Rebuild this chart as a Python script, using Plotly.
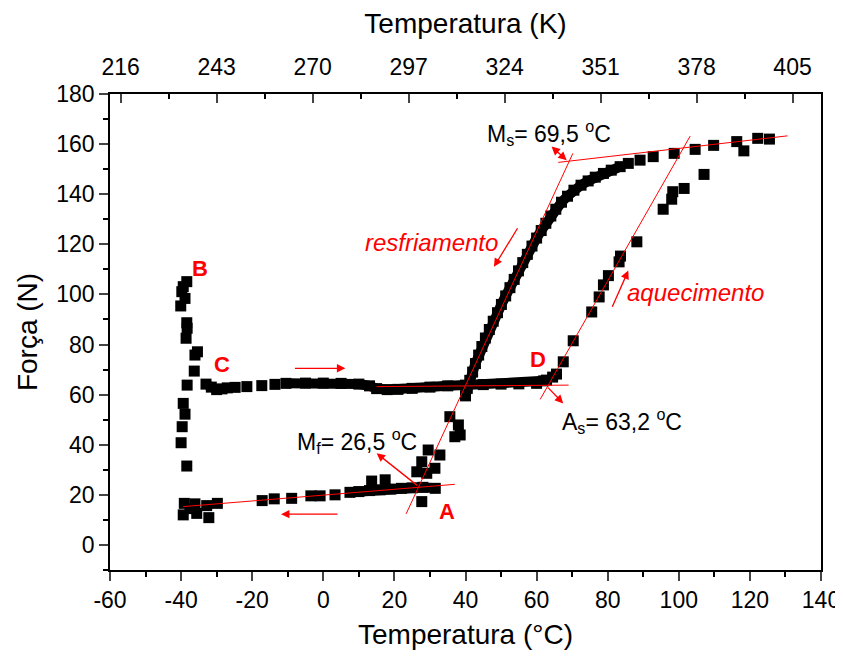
import plotly.graph_objects as go

# ---- data (T in °C, F in N) ----
# vertical column at -40 °C (B region)
col_T = [-38.4, -39.4, -39.8, -38.9, -40.1, -38.4, -38.3, -38.6, -35.4, -36.1, -36.3, -38.3,
         -39.4, -38.9, -39.7, -40.0, -38.4]
col_F = [105.1, 103.1, 101.1, 98.4, 95.4, 88.7, 86.5, 82.5, 77.1, 75.8, 69.4, 63.8,
         56.5, 52.2, 47.2, 40.8, 31.5]

# lower branch (cooling to -40 °C)
low_T = [3.3, -0.9, -3.5, -8.9, -13.8, -17.2, -29.8, -32.8, -36.1, -39.1, -39.4, -35.6, -32.2, -37.5]
low_F = [20.0, 19.6, 19.6, 18.6, 18.4, 17.7, 16.6, 15.7, 16.4, 16.6, 12.0, 12.6, 10.9, 14.5]

# dense band near A
bandA_T = [7.5, 10, 13, 16, 19, 22, 25, 28, 31.5]
bandA_F = [21.0, 21.3, 21.7, 22.0, 22.3, 22.6, 22.8, 23.0, 22.6]

# scattered points between plateau and A
nearA_T = [13.6, 17.4, 27.7, 26.3, 29.1, 27.7, 31.4, 29.5, 32.8, 35.6, 38.0, 37.0, 38.5]
nearA_F = [25.5, 26.0, 17.3, 29.2, 28.6, 33.2, 30.6, 37.9, 35.9, 51.2, 47.9, 43.2, 43.9]

# plateau C -> D
platC_T = [-33.0, -31.5, -30.0, -28.5, -27.0]
platC_F = [64.2, 63.0, 62.0, 62.3, 62.7]
platSq_T = [-24.8, -21.5, -17.3, -13.6]
platSq_F = [62.9, 63.2, 63.6, 64.1]
platD_T = [-10.5, -5, 0, 5, 10, 13, 15, 18, 21, 25, 30, 35, 40, 45, 50, 55, 60, 62]
platD_F = [64.5, 64.6, 64.6, 64.5, 64.2, 63.5, 62.4, 62.0, 62.1, 62.5, 63.0, 63.5, 63.8, 64.0, 64.2,
           64.3, 64.5, 65.5]

# heating branch D -> top
heat_T = [62.8, 64.5, 65.6, 67.5, 70.3, 75.5, 77.6, 78.8, 80.2, 83.2, 83.6, 88.2, 95.6, 98.0, 98.3,
          101.5, 107.1, 118.3, 122.2, 125.5]
heat_F = [65.8, 67.0, 68.2, 73.1, 81.5, 93.0, 99.0, 103.8, 107.5, 113.0, 115.3, 121.0, 134.0, 138.0,
          141.0, 142.3, 147.9, 157.3, 162.3, 162.0]

# upper cooling plateau squares
top_T = [116.3, 109.8, 104.6, 98.7, 92.8, 89.1, 85.8]
top_F = [161.0, 159.5, 157.9, 156.3, 155.0, 153.6, 152.3]

# dense cooling branch
cool_T = [83.5, 81.0, 78.8, 76.5, 74.5, 72.5, 70.5, 68.7, 67.0, 65.4, 64.0, 62.6, 61.3, 60.0, 58.7,
          57.4, 56.1, 54.9, 53.7, 52.5, 51.3, 50.1, 49.0, 47.8, 46.7, 45.6, 44.6, 43.7, 42.8, 42.0,
          41.2, 40.5, 40.0]
cool_F = [151.0, 149.6, 148.3, 146.8, 145.3, 143.6, 141.6, 139.2, 136.8, 134.0, 131.3, 128.4, 125.5,
          122.5, 119.3, 116.0, 112.7, 109.4, 106.0, 102.7, 99.4, 96.0, 92.7, 89.3, 86.0, 82.6, 79.2,
          75.8, 72.4, 69.0, 65.7, 62.5, 59.5]

# tangent lines (T0, F0, T1, F1)
tangents = [
    (-39.4, 15.3, 37.0, 24.2),
    (23.3, 12.4, 70.2, 156.3),
    (66.1, 152.7, 130.6, 163.3),
    (61.0, 58.1, 103.2, 163.2),
    (15.0, 63.2, 69.0, 63.8),
]

C_ticks = [-60, -40, -20, 0, 20, 40, 60, 80, 100, 120, 140]
C_labels = ['-60', '-40', '-20', '0', '20', '40', '60', '80', '100', '120', '140']
F_ticks = [0, 20, 40, 60, 80, 100, 120, 140, 160, 180]
K_ticks = [216, 243, 270, 297, 324, 351, 378, 405]

fig = go.Figure()
sq = dict(symbol='square', size=11, color='black', line=dict(width=0))

for T, F in [(col_T, col_F), (low_T, low_F), (nearA_T, nearA_F), (platSq_T, platSq_F),
             (heat_T, heat_F), (top_T, top_F)]:
    fig.add_trace(go.Scatter(x=T, y=F, mode='markers', marker=sq, showlegend=False))
for T, F in [(bandA_T, bandA_F), (platC_T, platC_F), (platD_T, platD_F), (cool_T, cool_F)]:
    fig.add_trace(go.Scatter(x=T, y=F, mode='lines+markers', marker=sq,
                             line=dict(color='black', width=10), showlegend=False))

# dummy trace for the Kelvin axis
fig.add_trace(go.Scatter(x=[K_ticks[0]], y=[None], xaxis='x2', mode='markers',
                         marker=dict(opacity=0), showlegend=False, hoverinfo='skip'))

for (x0, y0, x1, y1) in tangents:
    fig.add_shape(type='line', x0=x0, y0=y0, x1=x1, y1=y1, xref='x', yref='y',
                  line=dict(color='red', width=1))

red = '#ff0000'
arrows = [  # head (x, y), tail (ax, ay), side
    (6.2, 70.5, -8.4, 70.5, 'end'),
    (-11.9, 12.3, 4.4, 12.3, 'end'),
    (48.0, 111.0, 54.9, 127.0, 'end'),
    (85.8, 109.5, 81.1, 94.5, 'end'),
    (64.2, 159.0, 68.9, 153.0, 'end+start'),
    (15.0, 36.6, 26.8, 23.3, 'end'),
    (67.5, 56.5, 62.8, 63.4, 'end'),
]
for (x, y, ax, ay, side) in arrows:
    fig.add_annotation(x=x, y=y, ax=ax, ay=ay, xref='x', yref='y', axref='x', ayref='y',
                       text='', showarrow=True, arrowhead=2, arrowsize=1.3, arrowwidth=1.3,
                       arrowcolor=red, arrowside=side)

labels = [('B', -34.7, 110.5), ('C', -28.5, 72.2), ('D', 60.4, 74.2), ('A', 34.8, 13.2)]
for t, x, y in labels:
    fig.add_annotation(x=x, y=y, xref='x', yref='y', text='<b>%s</b>' % t, showarrow=False,
                       font=dict(family='Arial', size=22, color=red))

texts = [('M<sub>f</sub>= 26,5 <sup>o</sup>C', 9.5, 41.5),
         ('M<sub>s</sub>= 69,5 <sup>o</sup>C', 63.5, 164.4),
         ('A<sub>s</sub>= 63,2 <sup>o</sup>C', 84.0, 49.5)]
for t, x, y in texts:
    fig.add_annotation(x=x, y=y, xref='x', yref='y', text=t, showarrow=False,
                       font=dict(family='Arial', size=23, color='black'))

fig.add_annotation(x=30.3, y=120.9, xref='x', yref='y', text='<i>resfriamento</i>',
                   showarrow=False, font=dict(family='Arial', size=24, color=red))
fig.add_annotation(x=104.8, y=100.6, xref='x', yref='y', text='<i>aquecimento</i>',
                   showarrow=False, font=dict(family='Arial', size=24, color=red))

axfont = dict(family='Arial', size=23, color='black')
titlefont = dict(family='Arial', size=28, color='black')
fig.update_layout(
    width=835, height=650,
    margin=dict(l=102, r=22, t=86, b=88, autoexpand=False),
    paper_bgcolor='white', plot_bgcolor='white',
    font=dict(family='Arial', color='black'),
    xaxis=dict(range=[-60, 140], tickmode='array', tickvals=C_ticks, ticktext=C_labels,
               ticks='outside', ticklen=9, tickwidth=1.5, automargin=False,
               showline=True, linewidth=1.5, linecolor='black', showgrid=False, zeroline=False,
               tickfont=axfont,
               minor=dict(dtick=10, tick0=0, ticks='outside', ticklen=5, tickwidth=1.5,
                          tickcolor='black'),
               title=dict(text='Temperatura (°C)', font=titlefont, standoff=12)),
    xaxis2=dict(range=[213, 413], overlaying='x', side='top', tickmode='array', tickvals=K_ticks,
                ticks='inside', ticklen=9, tickwidth=1.5, showline=True, linewidth=1.5,
                linecolor='black', showgrid=False, zeroline=False, tickfont=axfont,
                automargin=False, ticklabelstandoff=8,
                minor=dict(tick0=216, dtick=13.5, ticks='inside', ticklen=5, tickwidth=1.5,
                           tickcolor='black'),
                title=dict(text='Temperatura (K)', font=titlefont, standoff=18)),
    yaxis=dict(range=[-10, 180], tickmode='array', tickvals=F_ticks, ticks='outside', ticklen=9,
               tickwidth=1.5, automargin=False,
               showline=True, linewidth=1.5, linecolor='black', mirror=True, showgrid=False,
               zeroline=False, tickfont=axfont,
               minor=dict(dtick=10, tick0=0, ticks='outside', ticklen=5, tickwidth=1.5,
                          tickcolor='black'),
               title=dict(text='Força (N)', font=titlefont, standoff=10)),
)

fig.write_html('out.html')
